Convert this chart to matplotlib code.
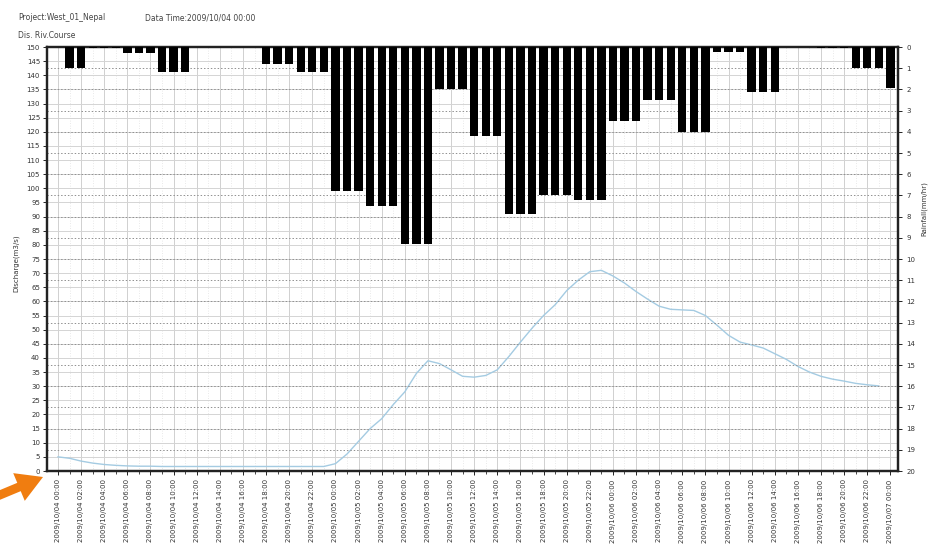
import matplotlib
matplotlib.use("Agg")
import matplotlib.pyplot as plt
import numpy as np
import pandas as pd
from matplotlib.patches import FancyArrow

# ---------------- data ----------------
tick_times = pd.date_range("2009-10-04 00:00", "2009-10-07 00:00", freq="2h")
tick_labels = [t.strftime("%Y/%m/%d %H:%M") for t in tick_times]

# hourly rainfall (mm), bar k = hour ending at k+1
rain_hours = list(range(1, 73))
rainfall = [1.0, 1.0, 0.05, 0.05, 0.05, 0.3, 0.3, 0.3, 1.2, 1.2, 1.2,
            0, 0, 0, 0, 0, 0,
            0.8, 0.8, 0.8, 1.2, 1.2, 1.2,
            6.8, 6.8, 6.8, 7.5, 7.5, 7.5, 9.3, 9.3, 9.3,
            2.0, 2.0, 2.0, 4.2, 4.2, 4.2, 7.9, 7.9, 7.9,
            7.0, 7.0, 7.0, 7.2, 7.2, 7.2, 3.5, 3.5, 3.5,
            2.5, 2.5, 2.5, 4.0, 4.0, 4.0, 0.25, 0.25, 0.25,
            2.1, 2.1, 2.1, 0, 0, 0, 0.05, 0.05, 0.05,
            1.0, 1.0, 1.0, 1.95]

# hourly discharge (m3/s)
q_hours = list(range(0, 72))
discharge = [5.0, 4.5, 3.5, 2.8, 2.3, 2.0, 1.8, 1.7, 1.7, 1.6, 1.6, 1.6,
             1.6, 1.6, 1.6, 1.6, 1.6, 1.6, 1.6, 1.6, 1.6, 1.6, 1.6, 1.6,
             2.6, 6.0, 10.5, 15.0, 18.5, 23.5, 28.0, 34.5, 39.0, 38.0, 35.8, 33.5,
             33.2, 33.8, 35.8, 40.5, 45.6, 50.5, 55.0, 58.8, 63.8, 67.5, 70.5, 71.0,
             69.0, 66.5, 63.5, 60.8, 58.3, 57.2, 57.0, 56.8, 55.0, 51.6, 48.0, 45.6,
             44.6, 43.5, 41.5, 39.5, 37.0, 35.0, 33.5, 32.5, 31.8, 31.0, 30.5, 30.1]

left_ticks = list(range(0, 151, 5))
right_ticks = list(range(0, 21))

# ---------------- figure ----------------
fig = plt.figure(figsize=(9.32, 5.54), dpi=100)
fig.patch.set_facecolor("white")
ax = fig.add_axes([47/932, 1-471/554, 851/932, 424/554])
ax2 = ax.twinx()

ax.set_xlim(-0.95, 72.66)
ax.set_ylim(0, 150)
ax2.set_ylim(20, 0)

# grids
ax.set_yticks(left_ticks)
ax.set_xticks(np.arange(0, 73, 2))
ax.set_xticks(np.arange(1, 73, 2), minor=True)
ax.grid(axis="y", which="major", color="#d4d4d4", lw=0.7, ls="-", zorder=0)
ax.grid(axis="x", which="major", color="#d0d0d0", lw=0.7, ls="-", zorder=0)
ax.grid(axis="x", which="minor", color="#e2e2e2", lw=0.6, ls=(0, (1, 2)), zorder=0)
ax2.set_yticks(right_ticks)
ax2.grid(axis="y", color="#909090", lw=0.7, ls=(0, (1.5, 2)), zorder=0)

# discharge line
ax.plot(q_hours, discharge, color="#a4cbe2", lw=1.0, zorder=3)

# rainfall bars
ax2.bar(rain_hours, rainfall, width=0.72, bottom=0, color="black", zorder=4)

# tick labels
ax.set_xticklabels(tick_labels, rotation=90, fontsize=5, color="#333333")
ax.tick_params(axis="x", which="major", length=3, width=0.6, pad=3)
ax.tick_params(axis="x", which="minor", length=2, width=0.5)
ax.tick_params(axis="y", labelsize=5, length=3, width=0.6, pad=2, labelcolor="#333333")
ax2.tick_params(axis="y", labelsize=5, length=3, width=0.6, pad=3, labelcolor="#333333")

for a in (ax, ax2):
    for s in a.spines.values():
        s.set_color("#222222")
        s.set_linewidth(1.6)

ax.set_ylabel("Discharge(m3/s)", fontsize=5, color="#333333")
ax2.set_ylabel("Rainfall(mm/hr)", fontsize=5, color="#333333")
ax2.yaxis.set_label_coords(1.027, 0.62)
ax.yaxis.set_label_coords(-0.032, 0.49)

# header texts
fig.text(18/932, 1-18/554, "Project:West_01_Nepal", fontsize=5.5, color="#444444", va="center")
fig.text(145/932, 1-18/554, "Data Time:2009/10/04 00:00", fontsize=5.5, color="#444444", va="center")
fig.text(18/932, 1-36/554, "Dis. Riv.Course", fontsize=5.5, color="#444444", va="center")

# orange arrow (in inches)
arr = FancyArrow(-0.05, (554-497)/100, 0.48, 0.20, width=0.09, head_width=0.30,
                 head_length=0.26, length_includes_head=True,
                 transform=fig.dpi_scale_trans, color="#f07d10", lw=0)
fig.patches.append(arr)

fig.savefig("out.png", dpi=100)
